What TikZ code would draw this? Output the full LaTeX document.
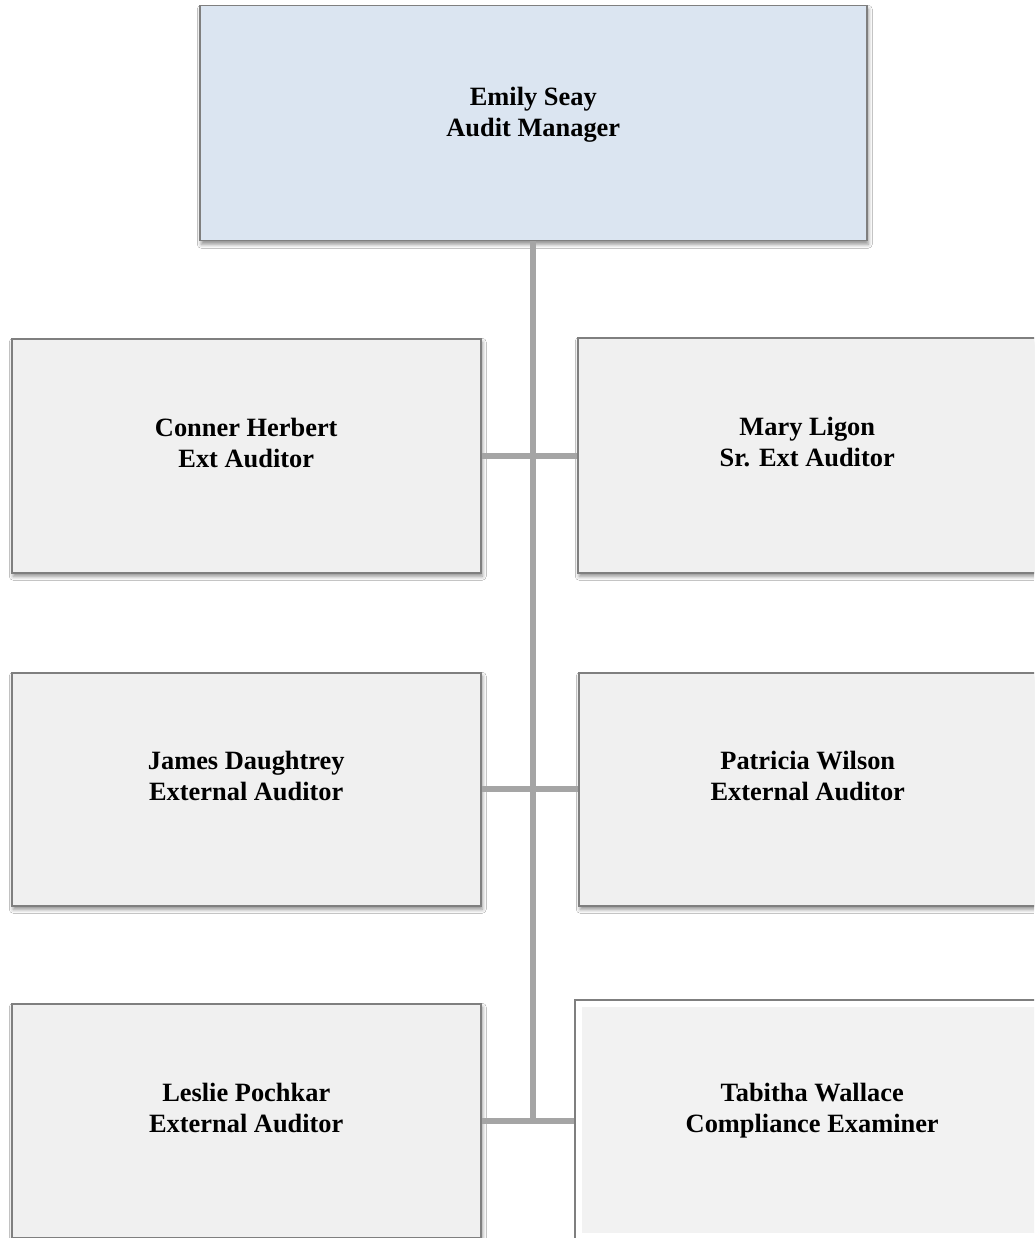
\documentclass[tikz,border=0pt]{standalone}
\usepackage{fontspec}
\setmainfont{Liberation Serif}
\usetikzlibrary{shadows.blur}
\definecolor{topfill}{HTML}{DBE5F1}
\definecolor{boxfill}{HTML}{F0F0F0}
\definecolor{innerfill}{HTML}{F2F2F2}
\definecolor{boxline}{HTML}{7F7F7F}
\definecolor{linkgray}{HTML}{A5A5A5}
\begin{document}
\begin{tikzpicture}[x=1pt,y=-1pt,
  box/.style={draw=boxline,line width=1.5pt,anchor=north west,inner sep=0pt,fill=boxfill,
    blur shadow={shadow xshift=1.5pt,shadow yshift=-3.5pt,shadow blur radius=4pt,shadow opacity=45}},
  lbl/.style={font=\bfseries\fontsize{26.4}{31}\selectfont,align=center,inner sep=0pt,yshift=13pt},
  link/.style={draw=linkgray,line width=6pt}]
\useasboundingbox (0,0) rectangle (1034,1238);
\clip (0,0) rectangle (1034,1238);
\fill[white] (0,0) rectangle (1034,1238);

% boxes
\node[box,fill=topfill,minimum width=667pt,minimum height=235pt] (top) at (199,5) {};
\node[box,minimum width=469pt,minimum height=234pt] (L1) at (11,338) {};
\node[box,minimum width=459pt,minimum height=235pt] (R1) at (577,337) {};
\node[box,minimum width=469pt,minimum height=233pt] (L2) at (11,672) {};
\node[box,minimum width=458pt,minimum height=233pt] (R2) at (578,672) {};
\node[box,minimum width=469pt,minimum height=234pt] (L3) at (11,1003) {};
\node[draw=boxline,line width=1.5pt,anchor=north west,inner sep=0pt,fill=white,minimum width=480pt,minimum height=250pt] (R3) at (574,999) {};
\node[anchor=north west,inner sep=0pt,fill=innerfill,minimum width=460pt,minimum height=226pt] (R3in) at (582,1007) {};

% connectors
\draw[link] (top.south) -- (top.south |- L3.east);
\draw[link] (L1.east) -- (L1.east -| R1.west);
\draw[link] (L2.east) -- (L2.east -| R2.west);
\draw[link] (L3.east) -- (L3.east -| R3.west);

% labels
\node[lbl,yshift=-5pt] (ttop) at (top.center) {Emily Seay\\Audit Manager};
\node[lbl] (tL1) at (L1.center) {Conner Herbert\\Ext Auditor};
\node[lbl] (tR1) at (R1.center) {Mary Ligon\\Sr. Ext Auditor};
\node[lbl] (tL2) at (L2.center) {James Daughtrey\\External Auditor};
\node[lbl] (tR2) at (R2.center) {Patricia Wilson\\External Auditor};
\node[lbl] (tL3) at (L3.center) {Leslie Pochkar\\External Auditor};
\node[lbl,yshift=-3pt] (tR3) at (R3in.center) {Tabitha Wallace\\Compliance Examiner};
\end{tikzpicture}
\end{document}
